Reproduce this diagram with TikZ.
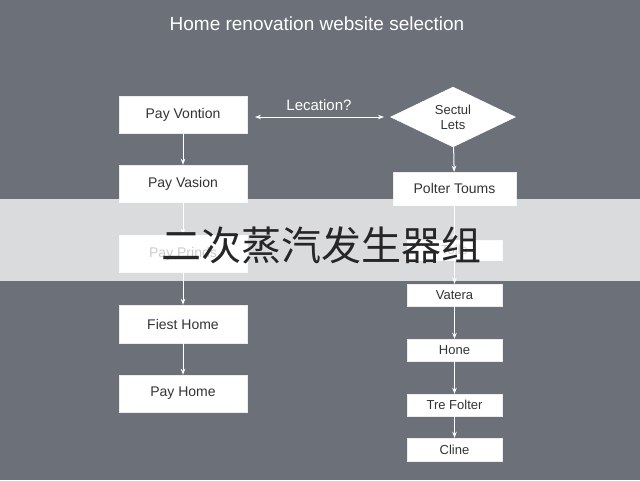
\documentclass[tikz,border=0pt]{standalone}
\usepackage{fontspec}
\setmainfont{Liberation Sans}
\newfontfamily\cjk{Noto Sans CJK SC}
\usetikzlibrary{shapes.geometric,arrows.meta}
\definecolor{bg}{HTML}{6B7079}
\begin{document}
\begin{tikzpicture}[x=1pt,y=-1pt,
 box/.style={draw=white!85!gray,fill=white,minimum height=37,font=\fontsize{14}{16}\selectfont,text=black!80,inner sep=1pt},
 lbox/.style={box,minimum width=128},
 rbox/.style={box,minimum width=95,minimum height=22,font=\fontsize{13}{15}\selectfont},
 arr/.style={draw=white,line width=1pt,-{Stealth[length=6pt]}}]
\fill[bg] (0,0) rectangle (640,480);
\useasboundingbox (0,0) rectangle (640,480);
\node[text=white,font=\fontsize{19}{22}\selectfont] (t) at (317,24) {Home renovation website selection};
\node[lbox] (l1) at (183,115) {Pay Vontion};
\node[lbox] (l2) at (183,183.5) {Pay Vasion};
\node[lbox] (l3) at (183,253.5) {Pay Prinds};
\node[lbox,minimum height=38] (l4) at (183,324) {Fiest Home};
\node[lbox] (l5) at (183,393.5) {Pay Home};
\foreach \a/\b in {l1/l2,l2/l3,l3/l4,l4/l5} \draw[arr] (\a) -- (\b);
\node[diamond,draw=white,fill=white,aspect=2.1,inner sep=0pt,align=center,font=\fontsize{13}{15}\selectfont,text=black!80,minimum width=125,minimum height=60] (d) at (453,117) {Sectul\\Lets};
\node[box,minimum width=123,minimum height=33] (r1) at (454.5,188.5) {Polter Toums};
\node[rbox,minimum height=20] (r2) at (454.5,250) {Tolle};
\node[rbox] (r3) at (454.5,295) {Vatera};
\node[rbox] (r4) at (454.5,350) {Hone};
\node[rbox] (r5) at (454.5,405) {Tre Folter};
\node[rbox,minimum height=23] (r6) at (454.5,449.5) {Cline};
\draw[arr] (d) -- (r1);
\foreach \a/\b in {r1/r2,r2/r3,r3/r4,r4/r5,r5/r6} \draw[arr] (\a) -- (\b);
\coordinate (ca) at (255,117);
\coordinate (cb) at (384,117);
\draw[draw=white,line width=1pt,{Stealth[length=6pt]}-{Stealth[length=6pt]}] (ca) -- (cb);
\node[text=white,font=\fontsize{15}{17}\selectfont] (lab) at (319,105) {Lecation?};
\fill[white,opacity=0.75] (0,199) rectangle (640,281);
\node[font=\cjk\fontsize{40}{44}\selectfont,text=black!85] (ov) at (321,245) {二次蒸汽发生器组};
\end{tikzpicture}
\end{document}
